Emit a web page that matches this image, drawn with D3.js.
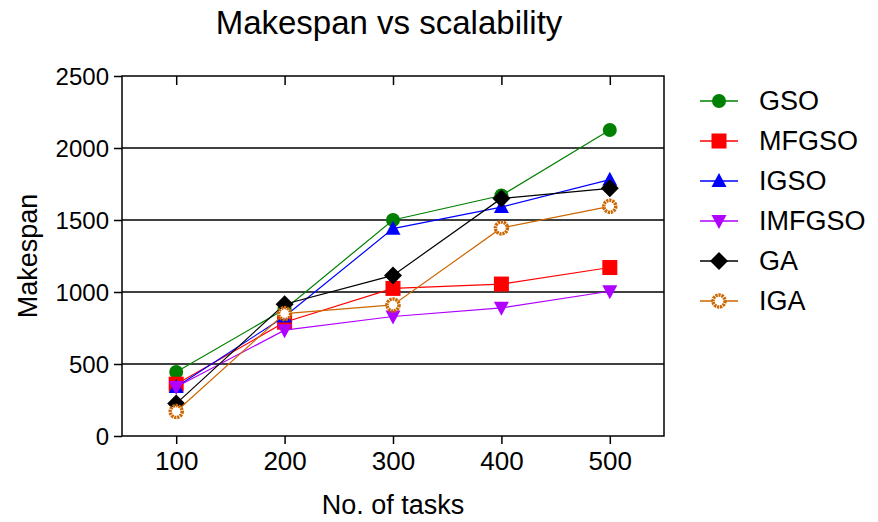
<html>
<head>
<script src="https://cdn.jsdelivr.net/npm/d3@7"></script>
<style>
body { margin: 0; background: white; }
text { font-family: "Liberation Sans", Arial, sans-serif; fill: black; }
</style>
</head>
<body>
<svg id="chart" width="878" height="522"></svg>
<script>
// chart data
var tasks = [100, 200, 300, 400, 500];
var seriesNames = ["GSO", "MFGSO", "IGSO", "IMFGSO", "GA", "IGA"];
var gso    = [444, 880, 1500, 1670, 2125];
var mfgso  = [360, 790, 1025, 1055, 1170];
var igso   = [340, 830, 1440, 1590, 1780];
var imfgso = [340, 735, 830, 890, 1005];
var ga     = [225, 915, 1115, 1650, 1720];
var iga    = [170, 850, 910, 1445, 1595];
var yTicks = [0, 500, 1000, 1500, 2000, 2500];

var colors = ["#008000", "#ff0000", "#0000ff", "#b000ff", "#000000", "#cc6600"];
var symbols = ["circle", "square", "triangle", "triangleDown", "diamond", "ring"];
var allValues = [gso, mfgso, igso, imfgso, ga, iga];

var svg = d3.select("#chart");
var pLeft = 122, pRight = 664, pTop = 76, pBottom = 436;

var x = d3.scaleLinear().domain([50, 550]).range([pLeft, pRight]);
var y = d3.scaleLinear().domain([0, 2500]).range([pBottom, pTop]);

// gridlines
svg.selectAll("line.grid")
    .data(yTicks.slice(1, -1))
    .enter().append("line")
      .attr("class", "grid")
      .attr("x1", pLeft).attr("x2", pRight)
      .attr("y1", function(d) { return y(d); })
      .attr("y2", function(d) { return y(d); })
      .attr("stroke", "#000").attr("stroke-width", 1.5);

// frame
svg.append("rect")
    .attr("x", pLeft).attr("y", pTop)
    .attr("width", pRight - pLeft).attr("height", pBottom - pTop)
    .attr("fill", "none").attr("stroke", "#000").attr("stroke-width", 1.5);

// axes
var yAxis = d3.axisLeft(y).tickValues(yTicks).tickFormat(d3.format("d")).tickSize(8).tickPadding(5);
svg.append("g").attr("transform", "translate(" + pLeft + ",0)").call(yAxis)
    .call(function(g) { g.select(".domain").remove(); })
    .selectAll("text").style("font-size", "24px").attr("dy", "0.36em");

var xAxis = d3.axisBottom(x).tickValues(tasks).tickFormat(d3.format("d")).tickSize(8).tickPadding(8);
svg.append("g").attr("transform", "translate(0," + pBottom + ")").call(xAxis)
    .call(function(g) { g.select(".domain").remove(); })
    .selectAll("text").style("font-size", "26px");

// top ticks pointing inward
svg.append("g").attr("transform", "translate(0," + pTop + ")")
    .call(d3.axisBottom(x).tickValues(tasks).tickSize(9).tickFormat(""))
    .call(function(g) { g.select(".domain").remove(); });

svg.selectAll(".tick line").attr("stroke", "#000").attr("stroke-width", 1.5);

// titles
svg.append("text").attr("x", 389).attr("y", 34)
    .attr("text-anchor", "middle").style("font-size", "33px")
    .text("Makespan vs scalability");
svg.append("text").attr("x", 393).attr("y", 514)
    .attr("text-anchor", "middle").style("font-size", "27px")
    .text("No. of tasks");
svg.append("text")
    .attr("transform", "translate(37,256) rotate(-90)")
    .attr("text-anchor", "middle").style("font-size", "27px")
    .text("Makespan");

// marker drawing
function drawMarker(g, kind, color) {
  if (kind == "circle") {
    g.append("circle").attr("r", 7).attr("fill", color);
  } else if (kind == "square") {
    g.append("rect").attr("x", -7.5).attr("y", -7.5).attr("width", 15).attr("height", 15).attr("fill", color);
  } else if (kind == "triangle") {
    g.append("path").attr("d", "M0,-8L7.5,6L-7.5,6Z").attr("fill", color);
  } else if (kind == "triangleDown") {
    g.append("path").attr("d", "M0,8L7.5,-6L-7.5,-6Z").attr("fill", color);
  } else if (kind == "diamond") {
    g.append("path").attr("d", "M0,-9L9,0L0,9L-9,0Z").attr("fill", color);
  } else if (kind == "ring") {
    g.append("circle").attr("r", 6).attr("fill", "white")
      .attr("stroke", color).attr("stroke-width", 3.5)
      .attr("stroke-dasharray", "2.2,0.8");
  }
}

var line = d3.line()
    .x(function(d, i) { return x(tasks[i]); })
    .y(function(d) { return y(d); });

// series
allValues.forEach(function(vals, s) {
  svg.append("path").datum(vals)
     .attr("d", line)
     .attr("fill", "none")
     .attr("stroke", colors[s]).attr("stroke-width", 1.2);
  svg.selectAll("g.m" + s).data(vals).enter().append("g")
     .attr("class", "m" + s)
     .attr("transform", function(d, i) { return "translate(" + x(tasks[i]) + "," + y(d) + ")"; })
     .each(function() { drawMarker(d3.select(this), symbols[s], colors[s]); });
});

// legend
var legend = svg.selectAll("g.legend").data(seriesNames).enter().append("g")
    .attr("class", "legend")
    .attr("transform", function(d, i) { return "translate(719," + (101 + i * 40) + ")"; });
legend.append("line").attr("x1", -19).attr("x2", 19)
    .attr("stroke", function(d, i) { return colors[i]; }).attr("stroke-width", 1.5);
legend.each(function(d, i) { drawMarker(d3.select(this), symbols[i], colors[i]); });
legend.append("text").attr("x", 40).attr("y", 9)
    .style("font-size", "27px")
    .text(function(d) { return d; });
</script>
</body>
</html>
